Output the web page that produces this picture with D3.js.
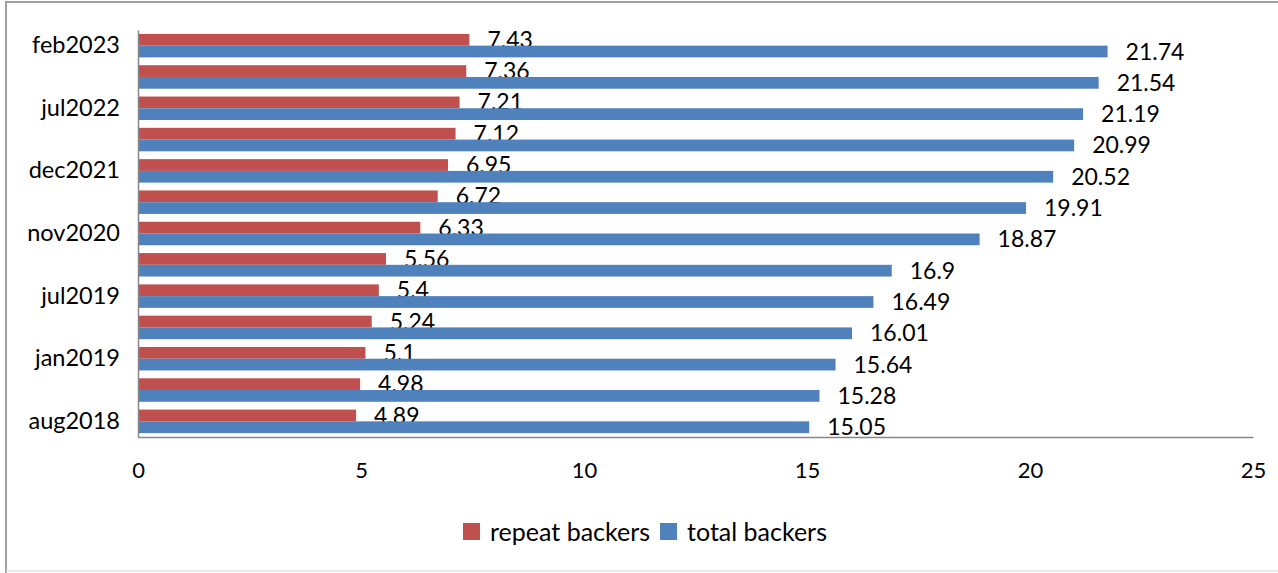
<!DOCTYPE html>
<html>
<head>
<meta charset="utf-8">
<script src="https://cdn.jsdelivr.net/npm/d3@7"></script>
<style>
  body { margin: 0; background: #fff; }
  text { font-family: Lato, "Open Sans", sans-serif; fill: #000; }
</style>
</head>
<body>
<div id="chart"></div>
<script>
// months, top to bottom (only every other one gets a label)
const months = ['feb2023', 'nov2022', 'jul2022', 'mar2022', 'dec2021', 'jun2021', 'nov2020',
                'jan2020', 'jul2019', 'apr2019', 'jan2019', 'oct2018', 'aug2018'];
const shownMonths = ['feb2023', 'jul2022', 'dec2021', 'nov2020', 'jul2019', 'jan2019', 'aug2018'];
const repeatBackers = [7.43, 7.36, 7.21, 7.12, 6.95, 6.72, 6.33, 5.56, 5.4, 5.24, 5.1, 4.98, 4.89];
const totalBackers = [21.74, 21.54, 21.19, 20.99, 20.52, 19.91, 18.87, 16.9, 16.49, 16.01, 15.64, 15.28, 15.05];
const seriesNames = ['repeat backers', 'total backers'];
const seriesColors = ['#C0504D', '#4F81BD'];
const xTicks = [0, 5, 10, 15, 20, 25];

const width = 1278, height = 573;
const plot = {left: 138, right: 1253, top: 30, bottom: 437};

const svg = d3.select('#chart').append('svg')
    .attr('width', width).attr('height', height);

// outer frame: left + top darker, bottom faint
svg.append('path').attr('d', `M6,${height} V2 H${width}`)
    .attr('fill', 'none').attr('stroke', '#a0a0a0').attr('stroke-width', 2);
svg.append('line').attr('x1', 6).attr('x2', width).attr('y1', 571).attr('y2', 571)
    .attr('stroke', '#e2e2e2').attr('stroke-width', 1.5);

const x = d3.scaleLinear().domain([0, 25]).range([plot.left, plot.right]);
const y = d3.scaleBand().domain(months).range([plot.top, plot.bottom])
    .paddingInner(0.25).paddingOuter(0.125);
const ySub = d3.scaleBand().domain(seriesNames).range([0, y.bandwidth()]);

const rows = months.map((m, i) => ({month: m, values: [repeatBackers[i], totalBackers[i]]}));

const groups = svg.selectAll('g.row').data(rows).enter().append('g')
    .attr('class', 'row')
    .attr('transform', d => `translate(0,${y(d.month)})`);

seriesNames.forEach((name, s) => {
    groups.append('rect')
        .attr('x', x(0))
        .attr('y', ySub(name))
        .attr('width', d => x(d.values[s]) - x(0))
        .attr('height', ySub.bandwidth())
        .attr('fill', seriesColors[s]);
    groups.append('text')
        .attr('x', d => x(d.values[s]) + 18)
        .attr('y', ySub(name) + ySub.bandwidth() / 2)
        .attr('dy', '0.35em')
        .style('font-size', '23px')
        .text(d => d.values[s]);
});

// axes
const xAxis = d3.axisBottom(x).tickValues(xTicks).tickSize(0).tickPadding(25);
const gx = svg.append('g').attr('transform', `translate(0,${plot.bottom})`).call(xAxis);
gx.select('.domain').attr('stroke', '#868686').attr('stroke-width', 1.5);
gx.selectAll('text').style('font-size', '22px').attr('fill', '#000');

const yAxis = d3.axisLeft(y).tickValues(shownMonths).tickSize(0).tickPadding(18);
const gy = svg.append('g').attr('transform', `translate(${plot.left},0)`).call(yAxis);
gy.select('.domain').attr('stroke', '#868686').attr('stroke-width', 1.5);
gy.selectAll('text').style('font-size', '23.5px').attr('fill', '#000');

// legend
const legend = svg.append('g').attr('transform', 'translate(463,532)');
let lx = 0;
seriesNames.forEach((name, s) => {
    const item = legend.append('g').attr('transform', `translate(${lx},0)`);
    item.append('rect').attr('x', 0).attr('y', -9).attr('width', 17).attr('height', 17)
        .attr('fill', seriesColors[s]);
    const t = item.append('text').attr('x', 27).attr('dy', '0.35em')
        .style('font-size', '25px').text(name);
    lx += 27 + t.node().getComputedTextLength() + 10;
});
</script>
</body>
</html>
